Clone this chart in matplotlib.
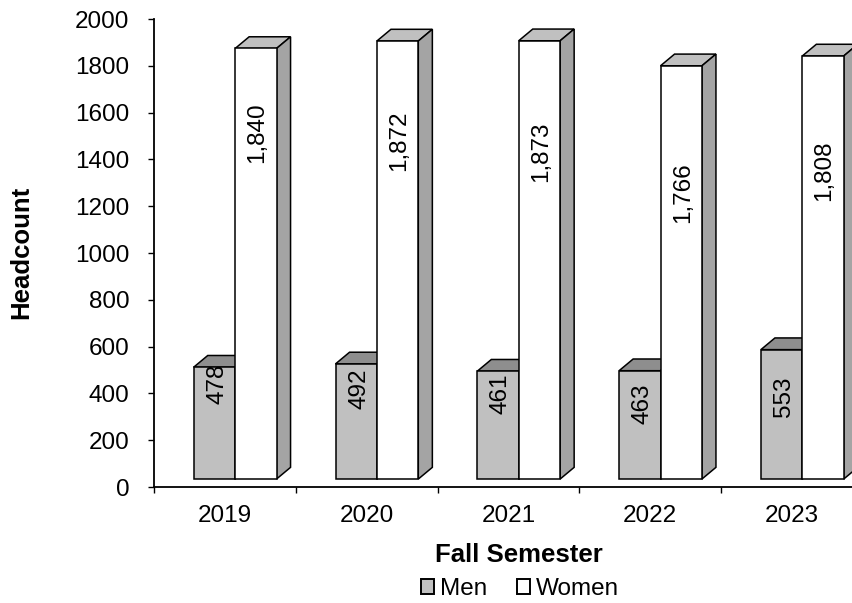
import matplotlib.pyplot as plt
from matplotlib.patches import Polygon, Patch

# ---- data ----
years = ['2019', '2020', '2021', '2022', '2023']
men = [478, 492, 461, 463, 553]
women = [1840, 1872, 1873, 1766, 1808]

# vertical centre of each rotated value label (in axis units, as Excel placed them)
men_label_y = [443, 422, 397, 354, 384]
women_label_y = [1514, 1480, 1433, 1258, 1352]

plt.rcParams['font.family'] = ['Liberation Sans', 'DejaVu Sans']

FONT = 17.5
BASE = 34       # bars float a little above the axis line (3d floor)
DX = 0.099      # depth offset in x (category units)
DY = 50         # depth offset in y (data units)
LEFT = 0.28     # front face start within a category
W = 0.292       # bar width


def bar3d(ax, x0, h, front, top, side):
    x1 = x0 + W
    y0, y1 = BASE, BASE + h
    kw = dict(edgecolor='black', linewidth=1.1, joinstyle='miter')
    ax.add_patch(Polygon([(x0, y1), (x0 + DX, y1 + DY), (x1 + DX, y1 + DY), (x1, y1)],
                         facecolor=top, **kw))
    ax.add_patch(Polygon([(x1, y0), (x1 + DX, y0 + DY), (x1 + DX, y1 + DY), (x1, y1)],
                         facecolor=side, **kw))
    ax.add_patch(Polygon([(x0, y0), (x1, y0), (x1, y1), (x0, y1)],
                         facecolor=front, **kw))


fig = plt.figure(figsize=(8.52, 6.03), dpi=100)
ax = fig.add_axes([154 / 852, 116 / 603, 709 / 852, 468 / 603])

for i in range(len(years)):
    xm = i + LEFT
    xw = xm + W
    bar3d(ax, xm, men[i], '#C0C0C0', '#8E8E8E', '#8E8E8E')
    bar3d(ax, xw, women[i], 'white', '#C0C0C0', '#A4A4A4')
    ax.text(xm + W / 2 + 0.02, men_label_y[i], f'{men[i]:,}', rotation=90,
            ha='center', va='center', fontsize=FONT)
    ax.text(xw + W / 2 + 0.01, women_label_y[i], f'{women[i]:,}', rotation=90,
            ha='center', va='center', fontsize=FONT)

ax.set_xlim(0, 5)
ax.set_ylim(0, 2000)
ax.set_yticks(range(0, 2001, 200))
ax.set_xticks(range(0, 6))
ax.set_xticklabels([])
ax.set_xticks([i + 0.5 for i in range(5)], minor=True)
ax.set_xticklabels(years, minor=True)

for s in ['top', 'right']:
    ax.spines[s].set_visible(False)
for s in ['left', 'bottom']:
    ax.spines[s].set_linewidth(1.3)

ax.tick_params(axis='y', which='major', length=4.3, width=1, labelsize=FONT, pad=13.5)
ax.tick_params(axis='x', which='major', length=4.3, width=1)
ax.tick_params(axis='x', which='minor', length=0, labelsize=FONT, pad=13)

fig.text(21 / 852, 1 - 252 / 603, 'Headcount', rotation=90, ha='center', va='center',
         fontsize=18.5, fontweight='bold')
fig.text(519 / 852, 1 - 555 / 603, 'Fall Semester', ha='center', va='center',
         fontsize=18.5, fontweight='bold')

handles = [Patch(facecolor='#C0C0C0', edgecolor='black', linewidth=1.4, label='Men'),
           Patch(facecolor='white', edgecolor='black', linewidth=1.4, label='Women')]
fig.legend(handles=handles, loc='center', bbox_to_anchor=(520 / 852, 1 - 589 / 603),
           ncol=2, frameon=False, fontsize=FONT, handlelength=0.55, handleheight=0.55,
           handletextpad=0.25, columnspacing=1.2, borderpad=0, borderaxespad=0)

fig.savefig('out.png', dpi=100)
